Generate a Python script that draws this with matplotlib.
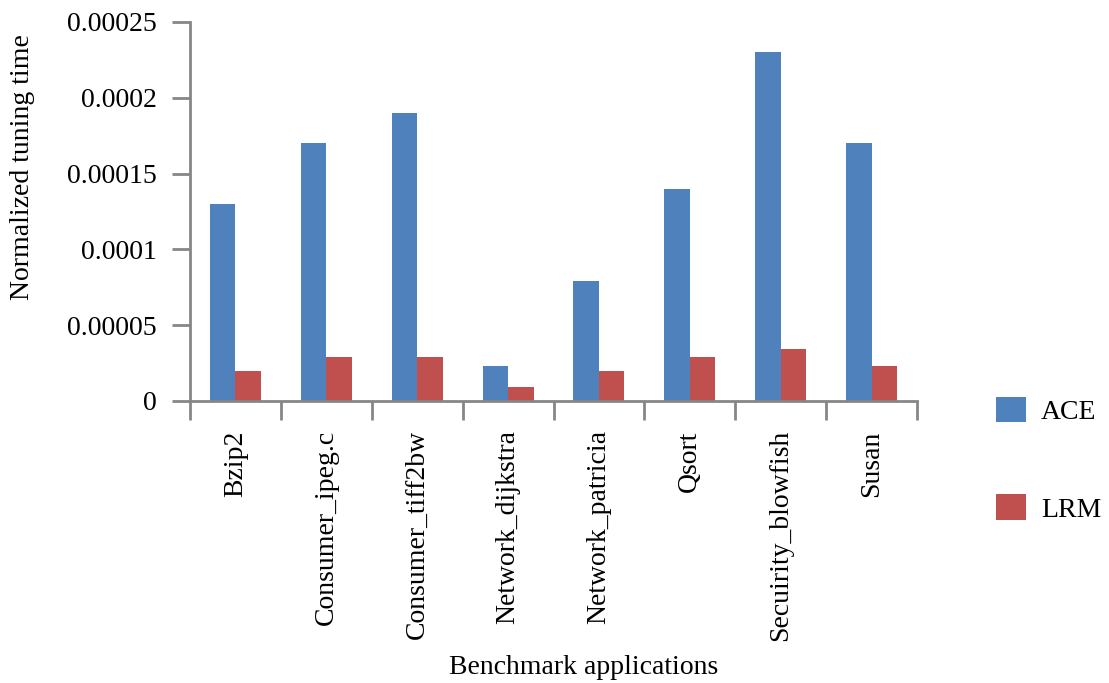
import numpy as np
import matplotlib
matplotlib.use("Agg")
import matplotlib.pyplot as plt

categories = ["Bzip2", "Consumer_ipeg.c", "Consumer_tiff2bw", "Network_dijkstra",
              "Network_patricia", "Qsort", "Secuirity_blowfish", "Susan"]
ace = [0.00013, 0.00017, 0.00019, 0.000023, 0.000079, 0.00014, 0.00023, 0.00017]
lrm = [0.00002, 0.000029, 0.000029, 0.000009, 0.00002, 0.000029, 0.000034, 0.000023]
yticks = [0, 0.00005, 0.0001, 0.00015, 0.0002, 0.00025]
ytick_labels = ["0", "0.00005", "0.0001", "0.00015", "0.0002", "0.00025"]

plt.rcParams["font.family"] = ["Liberation Serif", "DejaVu Serif"]
axis_gray = "#868686"
fs = 20

fig = plt.figure(figsize=(11.09, 6.83), dpi=100)
ax = fig.add_axes([0.1713, 0.4129, 0.6556, 0.5549])

x = np.arange(len(categories))
w = 0.28
ax.bar(x - w / 2, ace, width=w, color="#4F81BD", label="ACE")
ax.bar(x + w / 2, lrm, width=w, color="#C0504D", label="LRM")

ax.set_xlim(-0.5, len(categories) - 0.5)
ax.set_ylim(0, 0.00025)
ax.set_yticks(yticks)
ax.set_yticklabels(ytick_labels)

ax.set_xticks(x)
ax.set_xticklabels(categories, rotation=90, va="top", ha="center")
ax.set_xticks(np.arange(len(categories) + 1) - 0.5, minor=True)
ax.tick_params(axis="x", which="major", length=0, pad=21, labelsize=fs)
ax.tick_params(axis="x", which="minor", length=13.5, width=2, color=axis_gray)
ax.tick_params(axis="y", length=13, width=2, color=axis_gray, pad=11, labelsize=fs)

for side in ["top", "right"]:
    ax.spines[side].set_visible(False)
for side in ["left", "bottom"]:
    ax.spines[side].set_color(axis_gray)
    ax.spines[side].set_linewidth(2)

ax.set_ylabel("Normalized tuning time", fontsize=fs)
ax.yaxis.set_label_coords(-0.213, 0.617)
fig.text(0.526, 0.023, "Benchmark applications", fontsize=fs, ha="center", va="center")

ax.legend(loc="center left", bbox_to_anchor=(1.094, -0.155), frameon=False,
          fontsize=fs, handlelength=1.05, handleheight=1.05, labelspacing=2.5,
          handletextpad=0.55, borderaxespad=0)

fig.savefig("out.png", dpi=100)
